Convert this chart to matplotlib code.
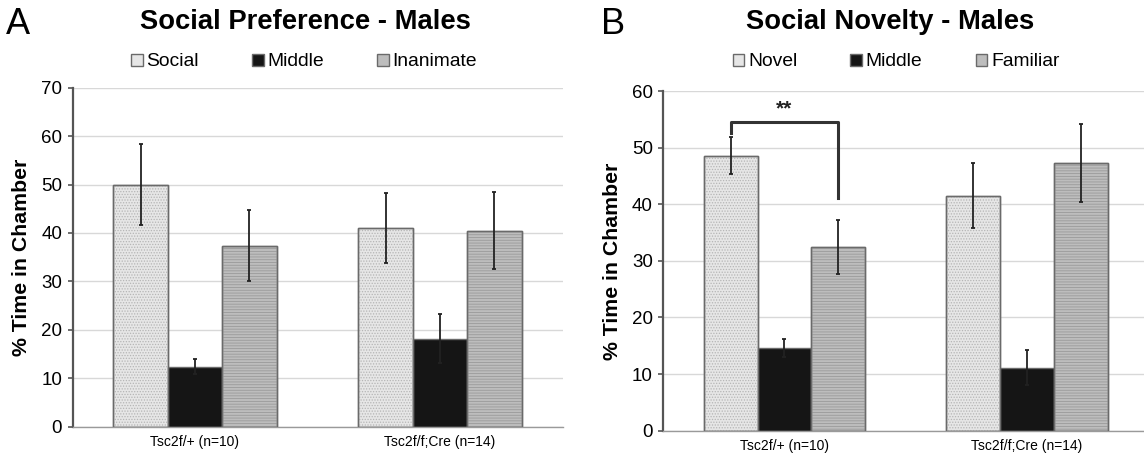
import matplotlib
matplotlib.use("Agg")
import matplotlib.pyplot as plt
import numpy as np

plt.rcParams['font.family'] = ['Liberation Sans', 'DejaVu Sans']
plt.rcParams['hatch.linewidth'] = 0.6

groups = ["Tsc2f/+ (n=10)", "Tsc2f/f;Cre (n=14)"]

# Panel A - Social Preference
a_series = ["Social", "Middle", "Inanimate"]
a_social = [50.0, 41.1]
a_social_err = [8.3, 7.2]
a_middle = [12.4, 18.2]
a_middle_err = [1.5, 5.1]
a_inanimate = [37.4, 40.5]
a_inanimate_err = [7.3, 8.0]
a_yticks = [0, 10, 20, 30, 40, 50, 60, 70]

# Panel B - Social Novelty
b_series = ["Novel", "Middle", "Familiar"]
b_novel = [48.6, 41.5]
b_novel_err = [3.2, 5.7]
b_middle = [14.6, 11.1]
b_middle_err = [1.6, 3.1]
b_familiar = [32.4, 47.3]
b_familiar_err = [4.8, 6.9]
b_yticks = [0, 10, 20, 30, 40, 50, 60]

# significance bracket (panel B, group 1: Novel vs Familiar)
sig_y = 54.5
sig_left_bottom = 52.6
sig_right_bottom = 41.1
sig_label = "**"

styles = [
    dict(face='#e6e6e6', hatch='......', hcolor='#b5b5b5'),
    dict(face='#151515', hatch=None, hcolor=None),
    dict(face='#bdbdbd', hatch='------', hcolor='#9a9a9a'),
]

W, H = 1144, 454
fig = plt.figure(figsize=(W / 100, H / 100), dpi=100)

def draw_panel(ax, names, vals, errs, yticks, leg_x):
    x = np.arange(len(groups))
    w = 0.222
    handles = []
    for i, (name, v, e) in enumerate(zip(names, vals, errs)):
        st = styles[i]
        pos = x + (i - 1) * w
        b = ax.bar(pos, v, width=w, color=st['face'], edgecolor='#6a6a6a',
                   linewidth=1.0, zorder=2, label=name)
        if st['hatch']:
            ax.bar(pos, v, width=w, fill=False, hatch=st['hatch'],
                   edgecolor=st['hcolor'], linewidth=0, zorder=2.5)
            ax.bar(pos, v, width=w, fill=False, edgecolor='#6a6a6a',
                   linewidth=1.0, zorder=2.6)
        ax.errorbar(pos, v, yerr=e, fmt='none', ecolor='#222222',
                    elinewidth=1.3, capsize=1.5, capthick=1.3, zorder=3)
        handles.append(b)
    ax.set_xlim(-0.5, len(groups) - 0.5)
    ax.set_ylim(yticks[0], yticks[-1])
    ax.set_yticks(yticks)
    ax.set_xticks(x)
    ax.set_xticklabels(groups, fontsize=10)
    ax.tick_params(axis='x', length=0, pad=6)
    ax.tick_params(axis='y', labelsize=13.5, length=3.5, width=1.2,
                   color='#555555', pad=4)
    ax.yaxis.grid(True, color='#d8d8d8', linewidth=1.0, zorder=0)
    ax.set_axisbelow(True)
    for s in ['top', 'right']:
        ax.spines[s].set_visible(False)
    ax.spines['left'].set_color('#555555')
    ax.spines['left'].set_linewidth(1.6)
    ax.spines['bottom'].set_color('#9a9a9a')
    ax.spines['bottom'].set_linewidth(1.0)
    ax.set_ylabel("% Time in Chamber", fontsize=15.3, fontweight='bold', labelpad=7)
    ax.legend(handles=handles, loc='center',
              bbox_to_anchor=(leg_x, 1 - 62 / H), bbox_transform=fig.transFigure,
              ncol=3, frameon=False, fontsize=13.9, handlelength=0.6,
              handleheight=0.6, handletextpad=0.2, columnspacing=2.75,
              borderaxespad=0, borderpad=0)
    return ax

axA = fig.add_axes([72.5 / W, (H - 426.7) / H, 490 / W, 339 / H])
draw_panel(axA, a_series, [a_social, a_middle, a_inanimate],
           [a_social_err, a_middle_err, a_inanimate_err], a_yticks, 304 / W)

axB = fig.add_axes([663.3 / W, (H - 430.7) / H, 484.7 / W, 339.7 / H])
draw_panel(axB, b_series, [b_novel, b_middle, b_familiar],
           [b_novel_err, b_middle_err, b_familiar_err], b_yticks, 896 / W)

# bracket
xl = 0 - 0.222
xr = 0 + 0.222
axB.plot([xl, xl, xr, xr], [sig_left_bottom, sig_y, sig_y, sig_right_bottom],
         color='#333333', linewidth=2.2, solid_joinstyle='round', zorder=4)
axB.text(0, sig_y + 0.6, sig_label, ha='center', va='bottom', fontsize=15,
         fontweight='bold', color='#222222')

fig.text(305 / W, 1 - 22 / H, "Social Preference - Males", ha='center', va='center',
         fontsize=19.7, fontweight='bold')
fig.text(890 / W, 1 - 22 / H, "Social Novelty - Males", ha='center', va='center',
         fontsize=19.7, fontweight='bold')
fig.text(6 / W, 1 - 25 / H, "A", ha='left', va='center', fontsize=26)
fig.text(601 / W, 1 - 25 / H, "B", ha='left', va='center', fontsize=26)

fig.savefig("out.png", dpi=100)
